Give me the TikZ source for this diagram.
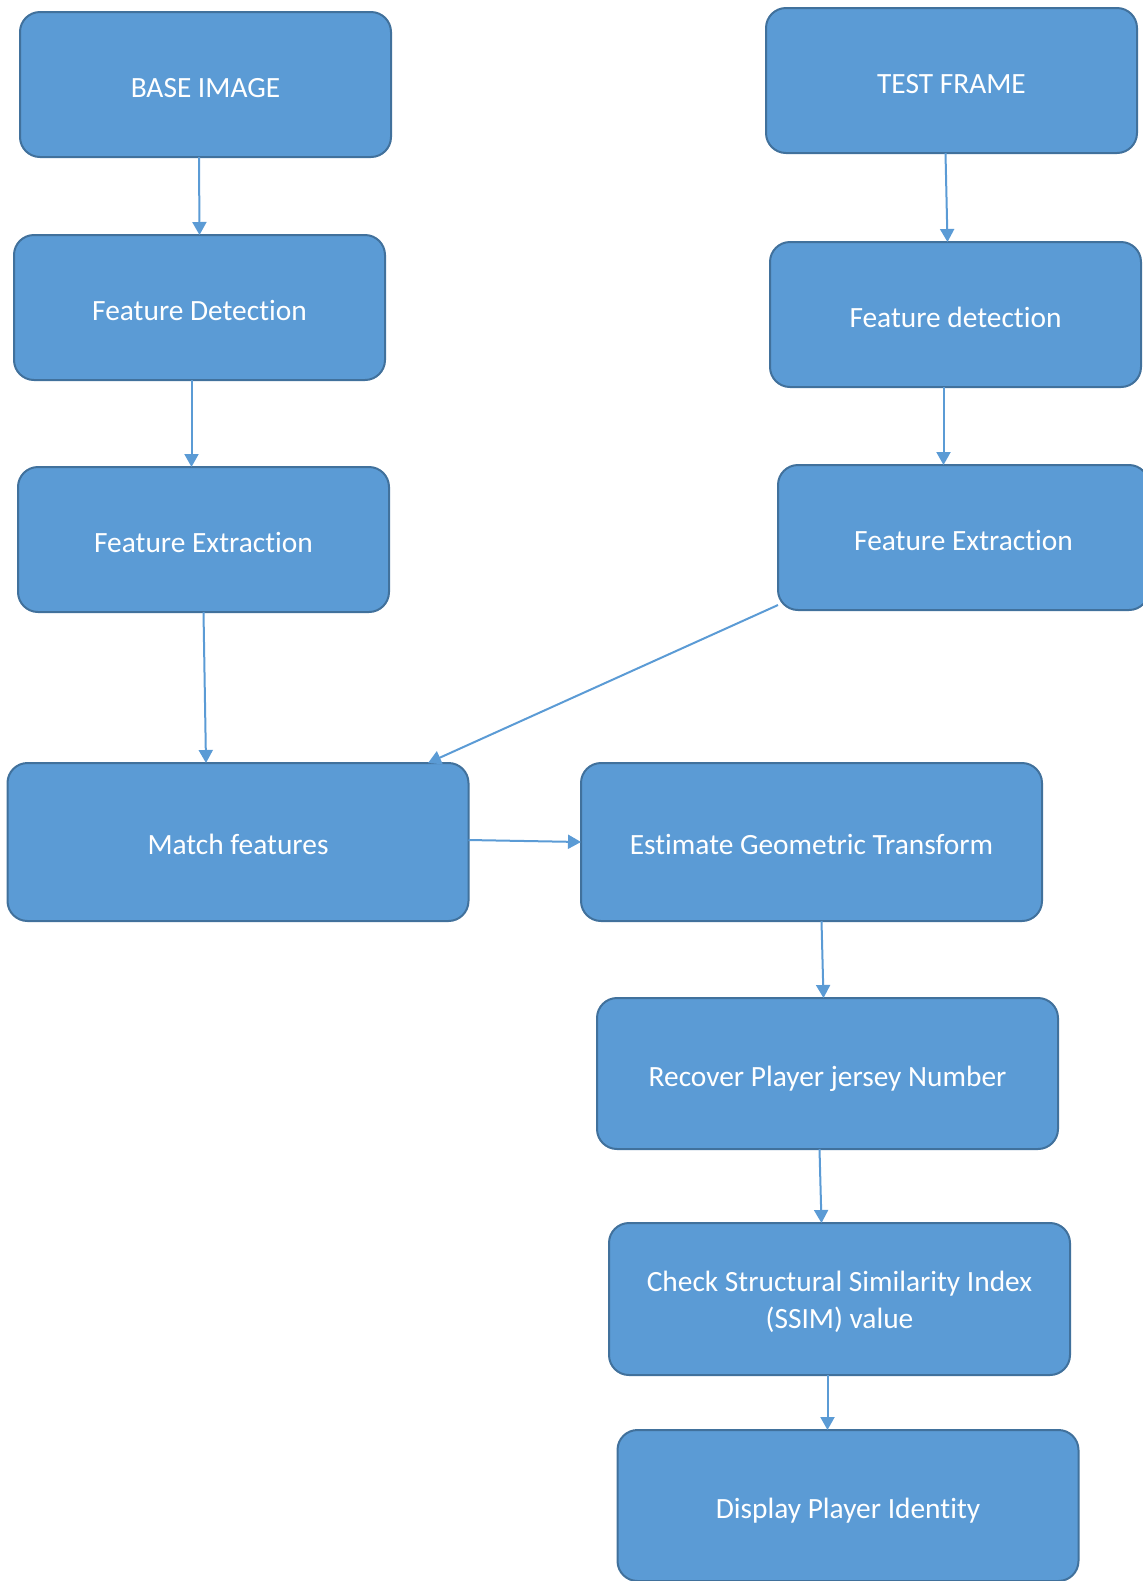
\documentclass[tikz,border=0pt]{standalone}
\usepackage{fontspec}
\setmainfont{Carlito}[RawFeature=-liga]
\usetikzlibrary{positioning,arrows.meta}
\definecolor{boxblue}{HTML}{5B9BD5}
\definecolor{boxedge}{HTML}{41719C}

\begin{document}
\begin{tikzpicture}[x=0.5pt, y=-0.5pt,
    box/.style={rectangle, rounded corners=10pt, draw=boxedge, line width=1pt, fill=boxblue, text=white, align=center, font=\fontsize{14.7}{18.6}\selectfont, text height=16.2pt, text depth=3.7pt, minimum width=185.5pt, minimum height=72.5pt, inner sep=0pt, outer sep=0pt},
    widebox/.style={box, minimum width=230.5pt, minimum height=75.5pt},
    arrow/.style={-{Triangle[length=6.5pt,width=7pt]}, draw=boxblue, line width=1pt}]

    \clip (0,0) rectangle (1143,1581);
    \useasboundingbox (0,0) rectangle (1143,1581);

    % Base image column
    \node[box] (base) at (205.5,84.5) {BASE IMAGE};
    \node[box] (fdl) at (199.5,307.5) {Feature Detection};
    \node[box] (fel) at (203.5,539.5) {Feature Extraction};

    % Test frame column
    \node[box] (test) at (951.5,80.5) {TEST FRAME};
    \node[box] (fdr) at (955.5,314.5) {Feature detection};
    \node[box] (fer) at (963.5,537.5) {Feature Extraction};

    % Matching and identification
    \node[widebox, minimum height=79pt] (match) at (238,842) {Match features};
    \node[widebox, minimum height=79pt] (est) at (811.5,842) {Estimate Geometric Transform};
    \node[widebox] (rec) at (827.5,1073.5) {Recover Player jersey Number};
    \node[widebox, minimum height=76pt, text height=33.5pt] (chk) at (839.5,1299) {Check Structural Similarity Index\\(SSIM) value};
    \node[widebox] (disp) at (848,1505.5) {Display Player Identity};

    % Arrows
    \draw[arrow] ([xshift=-3.25pt]base.south) -- (fdl.north);
    \draw[arrow] ([xshift=-4pt]fdl.south) -- ([xshift=-6pt]fel.north);
    \draw[arrow] (fel.south) -- ([xshift=-16pt]match.north);
    \draw[arrow] ([xshift=-3pt]test.south) -- ([xshift=-4pt]fdr.north);
    \draw[arrow] ([xshift=-6pt]fdr.south) -- ([xshift=-10pt]fer.north);
    \draw[arrow] (fer.200) -- ([xshift=95pt]match.north);
    \draw[arrow] ([yshift=1pt]match.east) -- (est.west);
    \draw[arrow] ([xshift=5pt]est.south) -- ([xshift=-2pt]rec.north);
    \draw[arrow] ([xshift=-4pt]rec.south) -- ([xshift=-9pt]chk.north);
    \draw[arrow] ([xshift=-6pt]chk.south) -- ([xshift=-10.25pt]disp.north);

\end{tikzpicture}
\end{document}
